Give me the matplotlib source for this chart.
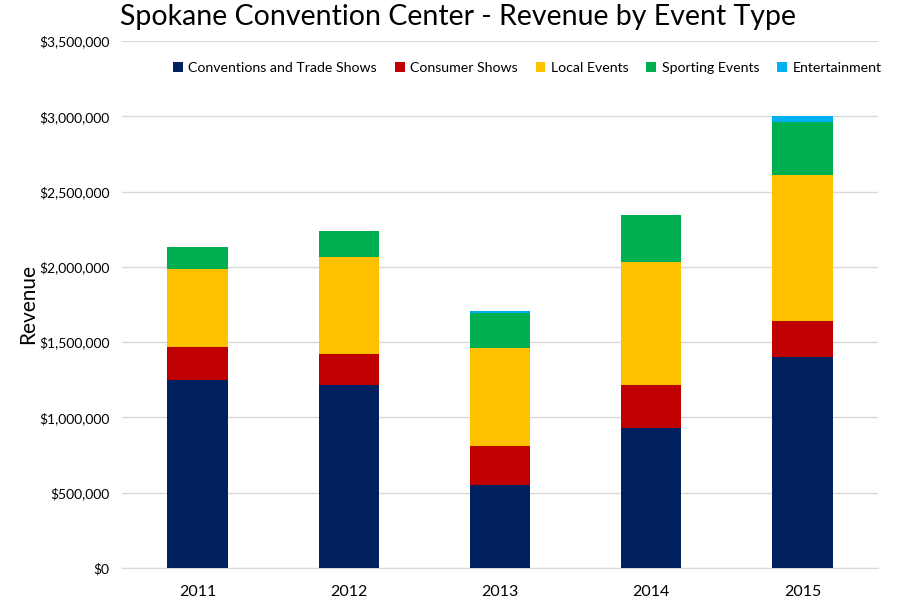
import numpy as np
import matplotlib.pyplot as plt
from matplotlib.ticker import FuncFormatter

plt.rcParams['font.family'] = ['Lato', 'DejaVu Sans']

# revenue by event type
years = ['2011', '2012', '2013', '2014', '2015']
conventions = [1249000, 1216000, 554000, 933000, 1402000]
consumer = [217000, 206000, 253000, 283000, 241000]
local_events = [521000, 643000, 652000, 815000, 965000]
sporting = [144000, 171000, 233000, 311000, 355000]
entertainment = [0, 0, 16000, 0, 42000]

series = [
    ('Conventions and Trade Shows', conventions, '#002060'),
    ('Consumer Shows', consumer, '#C00000'),
    ('Local Events', local_events, '#FFC000'),
    ('Sporting Events', sporting, '#00B050'),
    ('Entertainment', entertainment, '#00B0F0'),
]

fig = plt.figure(figsize=(8.99, 6), dpi=100)
ax = fig.add_axes([0.1357, 0.0533, 0.8409, 0.8784])

x = np.arange(len(years))
bottom = np.zeros(len(years))
for name, vals, col in series:
    ax.bar(x, vals, 0.4, bottom=bottom, color=col, label=name, zorder=3)
    bottom += np.array(vals)

ax.set_xlim(-0.5, len(years) - 0.5)
ax.set_ylim(0, 3500000)
ax.set_yticks(np.arange(0, 3500001, 500000))
ax.yaxis.set_major_formatter(FuncFormatter(lambda v, p: '${:,.0f}'.format(v)))
ax.set_xticks(x)
ax.set_xticklabels(years, fontsize=11.5)
ax.tick_params(axis='y', labelsize=10, length=0, pad=9)
ax.tick_params(axis='x', length=0, pad=12)
ax.grid(axis='y', color='#d9d9d9', linewidth=1, zorder=0)
for s in ['top', 'right', 'left']:
    ax.spines[s].set_visible(False)
ax.spines['bottom'].set_color('#d9d9d9')

ax.set_ylabel('Revenue', fontsize=15)
ax.yaxis.set_label_coords(-0.111, 0.5)
fig.text(0.51, 0.972, 'Spokane Convention Center - Revenue by Event Type',
         ha='center', va='center', fontsize=20.5)

ax.legend(loc='upper right', bbox_to_anchor=(1.022, 0.985), ncol=5, frameon=False,
          fontsize=10.2, handlelength=0.7, handleheight=0.7, handletextpad=0.4,
          columnspacing=1.25)

plt.savefig('out.png', dpi=100)
